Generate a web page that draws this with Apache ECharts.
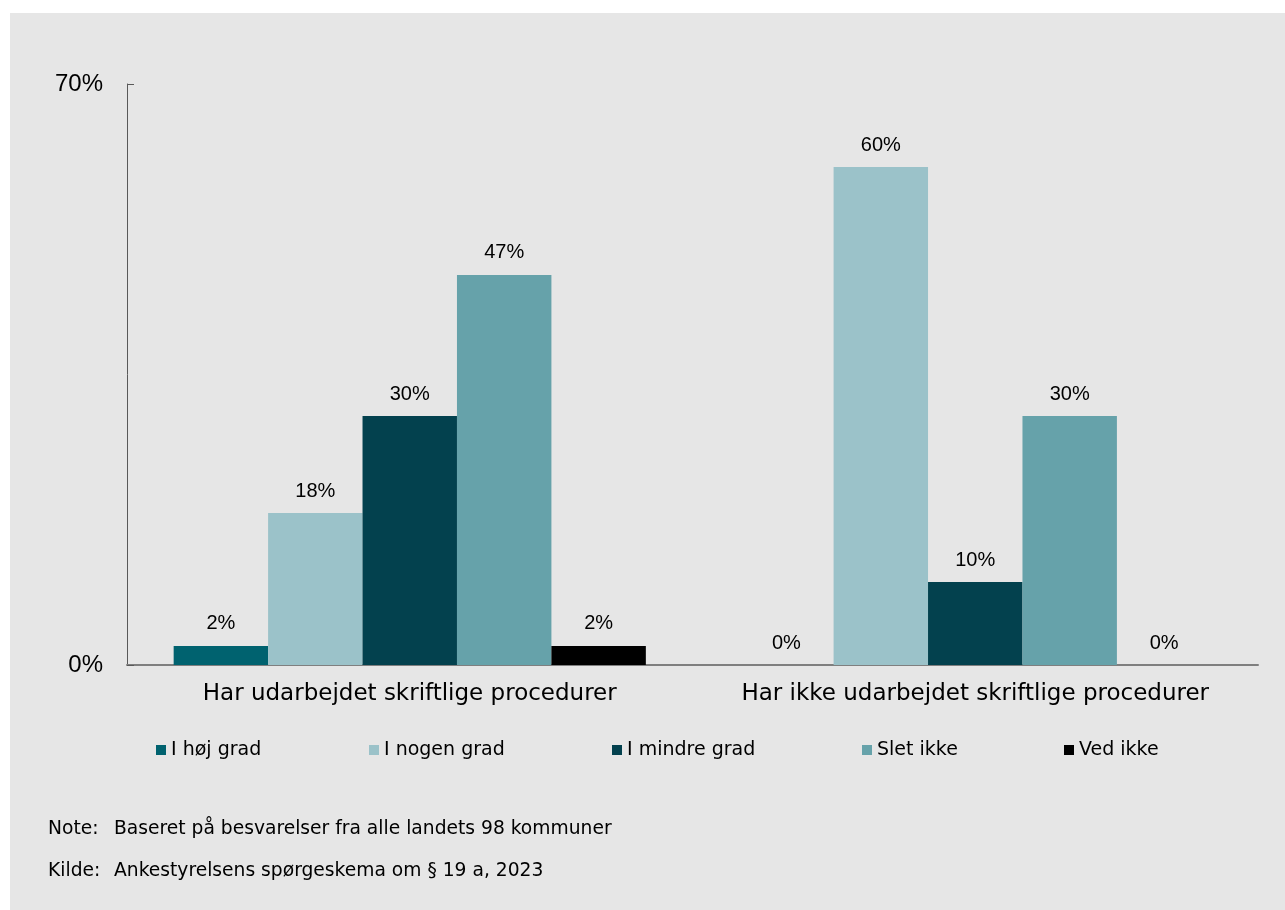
<!DOCTYPE html>
<html>
<head>
<meta charset="utf-8">
<script src="https://cdn.jsdelivr.net/npm/echarts@6/dist/echarts.min.js"></script>
<style>
html,body{margin:0;padding:0;background:#fff;}
#c{position:absolute;left:0;top:0;width:1285px;height:910px;}
</style>
</head>
<body>
<div id="c"></div>
<script>
const categories = ['Har udarbejdet skriftlige procedurer', 'Har ikke udarbejdet skriftlige procedurer'];
const seriesNames = ['I høj grad', 'I nogen grad', 'I mindre grad', 'Slet ikke', 'Ved ikke'];
const hojGrad = [2.3, 0];
const nogenGrad = [18.3, 60];
const mindreGrad = [30, 10];
const sletIkke = [47, 30];
const vedIkke = [2.3, 0];
const yTicks = [0, 70];
const noteText = 'Baseret på besvarelser fra alle landets 98 kommuner';
const kildeText = 'Ankestyrelsens spørgeskema om § 19 a, 2023';

const colors = ['#00626f', '#9bc2c9', '#03414e', '#66a2aa', '#000000'];
const values = [hojGrad, nogenGrad, mindreGrad, sletIkke, vedIkke];
const legendLeft = [156, 369, 612, 862, 1064];

const chart = echarts.init(document.getElementById('c'), null, {renderer: 'canvas'});
const series = seriesNames.map((n, i) => ({
  name: n,
  type: 'bar',
  data: values[i],
  barGap: '0%',
  barCategoryGap: '16.5%',
  itemStyle: {color: colors[i]},
  label: {
    show: true,
    position: 'top',
    distance: 12,
    formatter: p => Math.round(p.value) + '%',
    fontFamily: 'Liberation Sans, Arial',
    fontSize: 20,
    color: '#000'
  }
}));

const noteFont = '18.7px "DejaVu Sans", Verdana';

chart.setOption({
  animation: false,
  backgroundColor: '#fff',
  color: colors,
  grid: {left: 127, right: 27, top: 84, bottom: 245, containLabel: false},
  xAxis: {
    type: 'category',
    data: categories,
    axisLine: {show: true, lineStyle: {color: '#7f7f7f', width: 2}},
    axisTick: {show: false},
    axisLabel: {
      interval: 0,
      hideOverlap: false,
      fontFamily: 'DejaVu Sans, Verdana',
      fontSize: 23,
      color: '#000',
      margin: 18
    }
  },
  yAxis: {
    type: 'value',
    min: yTicks[0],
    max: yTicks[1],
    interval: 70,
    splitLine: {show: false},
    axisLine: {show: true, lineStyle: {color: '#595959', width: 1}},
    axisTick: {show: true, inside: true, length: 7, lineStyle: {color: '#595959'}},
    axisLabel: {
      formatter: v => v + '%',
      fontFamily: 'Liberation Sans, Arial',
      fontSize: 24,
      color: '#000',
      margin: 24
    }
  },
  legend: seriesNames.map((n, i) => ({
    data: [n],
    left: legendLeft[i],
    top: 740,
    padding: 0,
    itemWidth: 10,
    itemHeight: 10,
    itemGap: 0,
    icon: 'rect',
    textStyle: {fontFamily: 'DejaVu Sans, Verdana', fontSize: 19, lineHeight: 20, color: '#000'},
    selectedMode: false
  })),
  graphic: [
    {type: 'rect', left: 10, top: 13, shape: {width: 1275, height: 897}, style: {fill: '#e6e6e6'}, z: -10, silent: true},
    {type: 'text', x: 48, y: 829, style: {text: 'Note:', font: noteFont, fill: '#000', verticalAlign: 'middle'}},
    {type: 'text', x: 114, y: 829, style: {text: noteText, font: noteFont, fill: '#000', verticalAlign: 'middle'}},
    {type: 'text', x: 48, y: 871, style: {text: 'Kilde:', font: noteFont, fill: '#000', verticalAlign: 'middle'}},
    {type: 'text', x: 114, y: 871, style: {text: kildeText, font: noteFont, fill: '#000', verticalAlign: 'middle'}}
  ],
  series: series
});
</script>
</body>
</html>
